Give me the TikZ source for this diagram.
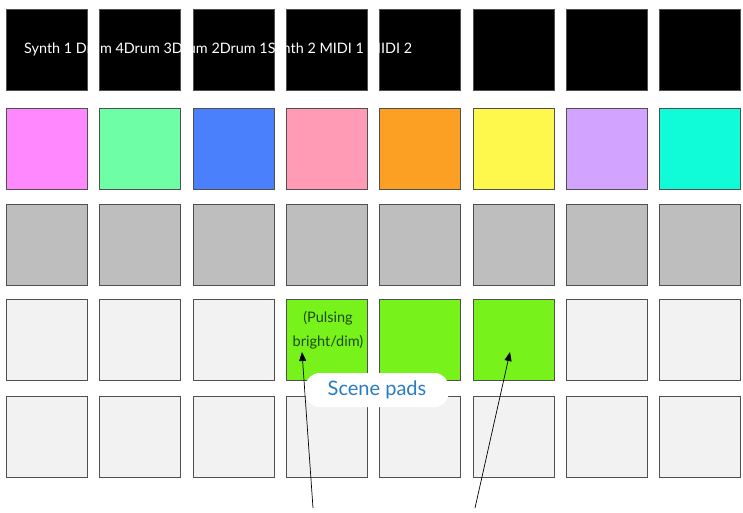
\documentclass[tikz,border=0pt]{standalone}
\usepackage{fontspec}
\setmainfont{Lato}
\usepackage{tikz}
\usetikzlibrary{arrows.meta}

\definecolor{padedge}{HTML}{505050}
\definecolor{padgrey}{HTML}{BEBEBE}
\definecolor{padoff}{HTML}{F2F2F2}
\definecolor{padgreen}{HTML}{77F21A}
\definecolor{textgreen}{HTML}{1F4A12}
\definecolor{calloutblue}{HTML}{2A7BC6}
\definecolor{cA}{HTML}{FF88FF}
\definecolor{cB}{HTML}{6EFFA6}
\definecolor{cC}{HTML}{4A80FC}
\definecolor{cD}{HTML}{FF9BB5}
\definecolor{cE}{HTML}{FCA024}
\definecolor{cF}{HTML}{FFF84C}
\definecolor{cG}{HTML}{D3A4FF}
\definecolor{cH}{HTML}{10FCD8}

\begin{document}
\begin{tikzpicture}[x=1pt, y=-1pt]
    \tikzstyle{pad} = [draw=padedge, line width=1pt, minimum width=81pt, minimum height=81pt, inner sep=0pt];
    \useasboundingbox (0,0) rectangle (743,512);
    % top row: black pads
    \foreach \c in {0,...,7}
        \node[pad, fill=black] (p0\c) at (47+93.3*\c,49.5) {};
    % clip colours
    \foreach \col [count=\c from 0] in {cA,cB,cC,cD,cE,cF,cG,cH}
        \node[pad, fill=\col] (p1\c) at (47+93.3*\c,149) {};
    \foreach \c in {0,...,7}
        \node[pad, fill=padgrey] (p2\c) at (47+93.3*\c,245) {};
    \foreach \col [count=\c from 0] in {padoff,padoff,padoff,padgreen,padgreen,padgreen,padoff,padoff}
        \node[pad, fill=\col] (p3\c) at (47+93.3*\c,340) {};
    \foreach \c in {0,...,7}
        \node[pad, fill=padoff] (p4\c) at (47+93.3*\c,437) {};
    % track names run across the gaps
    \node[text=white, font=\fontsize{14.4}{16}\selectfont, anchor=west, inner sep=0pt] (names) at (24,49)
        {Synth 1 Drum 4Drum 3Drum 2Drum 1Synth 2 MIDI 1 MIDI 2};
    \node[text=textgreen, font=\fontsize{14.5}{24}\selectfont, align=center, inner sep=0pt] (pulse) at (328,330)
        {(Pulsing\\bright/dim)};
    % arrows to the scene pads
    \coordinate (tailA) at (313,508);
    \coordinate (tailB) at (475,508);
    \coordinate (tipA) at (302,352);
    \coordinate (tipB) at (510,352);
    \draw[-{Triangle[length=9pt, width=7pt]}, line width=0.7pt] (tailA) -- (tipA);
    \draw[-{Triangle[length=9pt, width=7pt]}, line width=0.7pt] (tailB) -- (tipB);
    \node[fill=white, rounded corners=14pt, minimum width=143pt, minimum height=34pt,
        text=calloutblue, font=\fontsize{20}{22}\selectfont] (scene) at (377,390) {Scene pads};
\end{tikzpicture}
\end{document}
